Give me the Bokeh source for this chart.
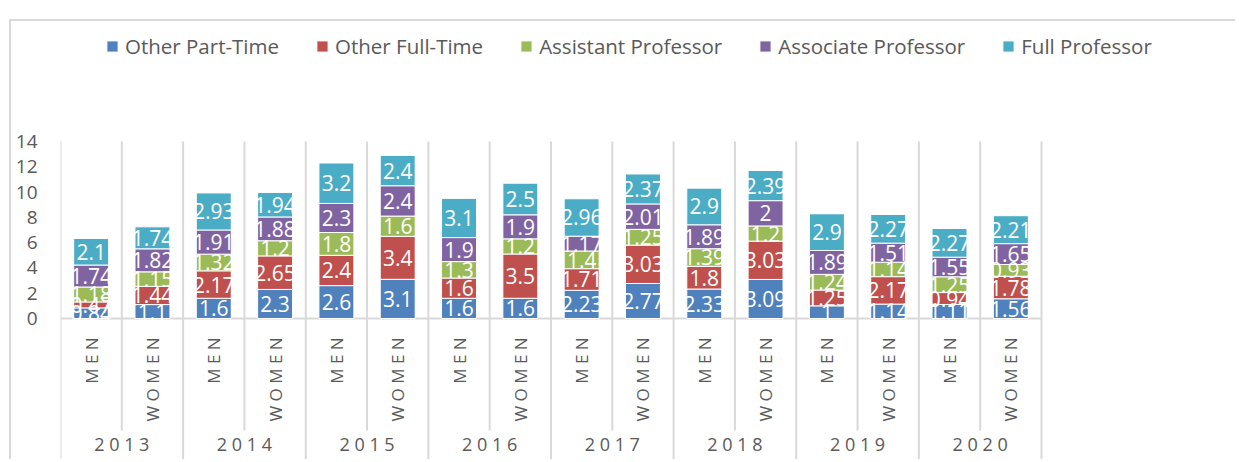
import math
from bokeh.plotting import figure
from bokeh.models import Range1d, ColumnDataSource, Legend, LegendItem, FixedTicker
from bokeh.core.properties import value
from bokeh.embed import file_html
from bokeh.resources import INLINE

# ---------------- data ----------------
years = ["2013", "2014", "2015", "2016", "2017", "2018", "2019", "2020"]
sexes = ["MEN", "WOMEN"]
series_names = ["Other Part-Time", "Other Full-Time", "Assistant Professor",
                "Associate Professor", "Full Professor"]
other_part_time = [0.84, 1.1, 1.6, 2.3, 2.6, 3.1, 1.6, 1.6, 2.23, 2.77, 2.33, 3.09, 1, 1.14, 1.11, 1.56]
other_full_time = [0.47, 1.44, 2.17, 2.65, 2.4, 3.4, 1.6, 3.5, 1.71, 3.03, 1.8, 3.03, 1.25, 2.17, 0.94, 1.78]
assistant_prof = [1.18, 1.15, 1.32, 1.2, 1.8, 1.6, 1.3, 1.2, 1.4, 1.25, 1.39, 1.2, 1.24, 1.14, 1.25, 0.93]
associate_prof = [1.74, 1.82, 1.91, 1.88, 2.3, 2.4, 1.9, 1.9, 1.17, 2.01, 1.89, 2, 1.89, 1.51, 1.55, 1.65]
full_prof = [2.1, 1.74, 2.93, 1.94, 3.2, 2.4, 3.1, 2.5, 2.96, 2.37, 2.9, 2.39, 2.9, 2.27, 2.27, 2.21]
colors = ["#4F81BD", "#C0504D", "#9BBB59", "#8064A2", "#4BACC6"]
y_ticks = [0, 2, 4, 6, 8, 10, 12, 14]

# ---------------- build ----------------
categories = [(y, s) for y in years for s in sexes]
n = len(categories)
xpos = [i + 0.5 for i in range(n)]           # slot centres on the numeric scale
year_pos = [2 * j + 1.0 for j in range(len(years))]

keys = ["pt", "ft", "asst", "assoc", "full"]
series_values = [other_part_time, other_full_time, assistant_prof, associate_prof, full_prof]
data = {"x": xpos}
for k, v in zip(keys, series_values):
    data[k] = v
source = ColumnDataSource(data)

GRID = "#d9d9d9"
TXT = "#595959"
FONT = "Open Sans"
Y_TOP, Y_BOT = 23.491, -11.311
X_END = 19.197

p = figure(
    x_range=Range1d(0, X_END),
    y_range=Range1d(Y_BOT, Y_TOP),
    width=1226, height=440,
    output_backend="svg", toolbar_location=None,
    min_border_left=49, min_border_right=0, min_border_top=0, min_border_bottom=0,
)
p.styles = {"margin-top": "19px", "margin-left": "9px",
            "border-top": "2px solid #d9d9d9", "border-left": "2px solid #d9d9d9"}
p.xaxis.visible = False
p.xgrid.visible = False
p.ygrid.visible = False
p.outline_line_color = None

ax = p.yaxis[0]
ax.ticker = FixedTicker(ticks=y_ticks)
ax.axis_line_color = None
ax.major_tick_line_color = None
ax.minor_tick_line_color = None
ax.major_tick_out = 0
ax.major_tick_in = 0
ax.major_label_standoff = 23
ax.major_label_text_font = FONT
ax.major_label_text_font_size = "19px"
ax.major_label_text_color = TXT

# separators between categories
inner_x = [i for i in range(1, n + 1) if i % 2 == 1]
group_x = [i for i in range(0, n + 1) if i % 2 == 0]
p.segment(x0=inner_x, x1=inner_x, y0=[max(y_ticks)] * len(inner_x), y1=[-8.86] * len(inner_x),
          line_color=GRID, line_width=2)
p.segment(x0=group_x, x1=group_x, y0=[max(y_ticks)] * len(group_x), y1=[Y_BOT] * len(group_x),
          line_color=GRID, line_width=2)
p.segment(x0=[0], x1=[n], y0=[0], y1=[0], line_color=GRID, line_width=2)

renderers = p.vbar_stack(keys, x="x", width=0.57, fill_color=colors, line_color="white",
                         line_width=1, source=source)

# data labels
lx, ly, lt = [], [], []
for i in range(n):
    base = 0.0
    for vals in series_values:
        v = vals[i]
        lx.append(xpos[i])
        ly.append(base + v / 2)
        lt.append(f"{v:g}")
        base += v
p.text(x=lx, y=ly, text=lt, text_color="white", text_font=value(FONT),
       text_font_size="21px", text_align="center", text_baseline="middle")

# category labels (rotated, letter spaced)
p.text(x=xpos, y=[-1.5] * n, text=["\u00a0".join(list(s)) for (_, s) in categories],
       angle=math.pi / 2, text_align="right", text_baseline="middle",
       text_color=TXT, text_font=value(FONT), text_font_size="17px")
p.text(x=year_pos, y=[-9.95] * len(years), text=["\u00a0".join(list(y)) for y in years],
       text_align="center", text_baseline="middle",
       text_color=TXT, text_font=value(FONT), text_font_size="18px")

legend = Legend(
    items=[LegendItem(label=nm, renderers=[r]) for nm, r in zip(series_names, renderers)],
    orientation="horizontal", location=(45, 401),
    glyph_width=14, glyph_height=14, label_standoff=6, spacing=36,
    padding=0, margin=0, border_line_color=None, background_fill_alpha=0,
    label_text_font=FONT, label_text_font_size="20.5px", label_text_color=TXT,
)
p.add_layout(legend, "center")

open("out.html", "w").write(file_html(p, INLINE))
